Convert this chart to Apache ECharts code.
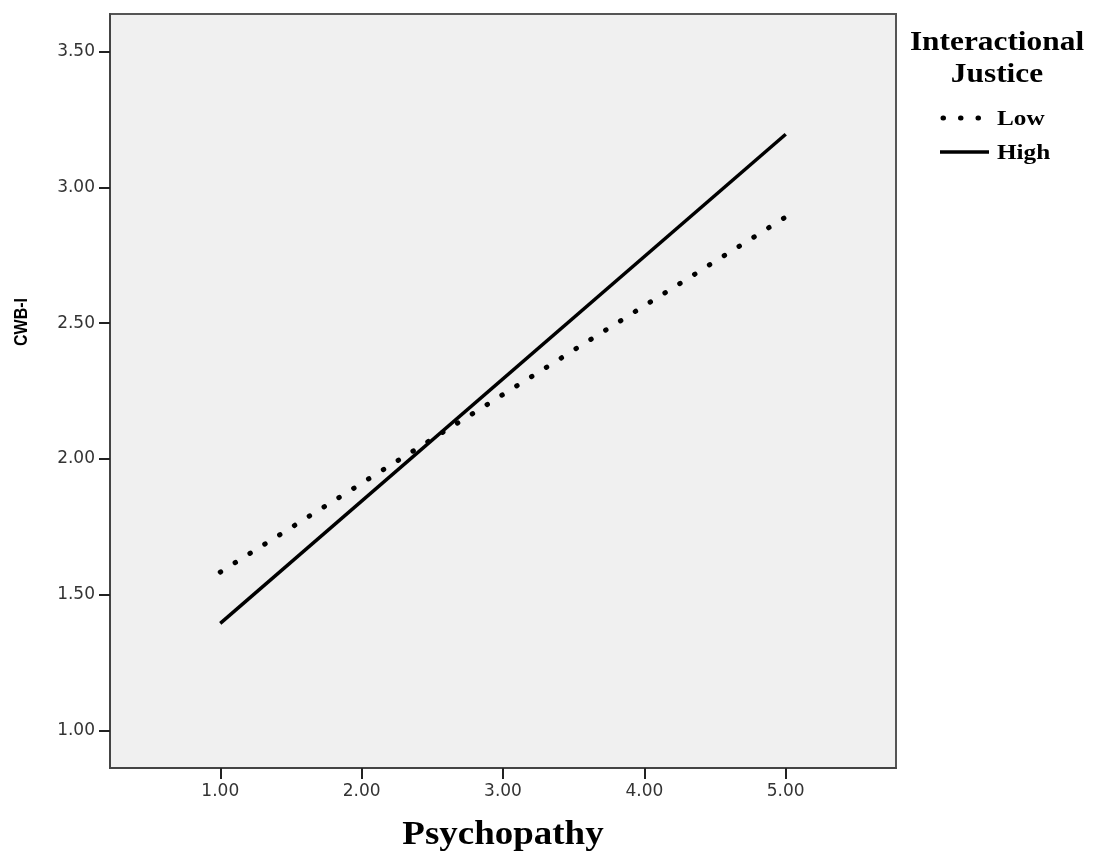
<!DOCTYPE html>
<html>
<head>
<meta charset="utf-8">
<script src="https://cdn.jsdelivr.net/npm/echarts@6/dist/echarts.min.js"></script>
<style>
  html, body { margin: 0; padding: 0; background: #fff; }
  #chart { width: 1094px; height: 852px; }
</style>
</head>
<body>
<div id="chart"></div>
<script>
// data
const psychopathy = [1, 5]
const lowJustice = [1.583, 2.891]
const highJustice = [1.394, 3.196]
const groupNames = ['Low', 'High']
const xTicks = [1, 2, 3, 4, 5]
const yTicks = [1, 1.5, 2, 2.5, 3, 3.5]

const toPairs = (xs, ys) => xs.map((x, i) => [x, ys[i]])

const lowDots = { color: '#000', width: 5, type: [0.5, 17], cap: 'round' }
const highSolid = { color: '#000', width: 3.5, type: 'solid' }

const chart = echarts.init(document.getElementById('chart'))

// the original is a little wider than normal, so titles get a horizontal stretch
const label = (text, x, y, font, align, opts) => Object.assign({
  type: 'text',
  x: x,
  y: y,
  scaleX: 1.12,
  style: {
    text: text,
    textAlign: align,
    textVerticalAlign: 'middle',
    font: font,
    fill: '#000'
  }
}, opts || {})

chart.setOption({
  animation: false,
  backgroundColor: '#fff',
  grid: {
    left: 110,
    top: 14,
    right: 198,
    bottom: 84,
    show: true,
    backgroundColor: '#f0f0f0',
    borderColor: '#555',
    borderWidth: 2
  },
  xAxis: {
    type: 'value',
    min: 0.22,
    max: 5.78,
    axisLine: { show: true, lineStyle: { color: '#444', width: 2 } },
    axisTick: { show: true, length: 11, lineStyle: { color: '#222', width: 2 }, customValues: xTicks },
    axisLabel: {
      customValues: xTicks,
      margin: 15,
      fontFamily: 'DejaVu Sans',
      fontSize: 17,
      color: '#333',
      formatter: v => v.toFixed(2)
    },
    splitLine: { show: false }
  },
  yAxis: {
    type: 'value',
    min: 0.861,
    max: 3.639,
    axisLine: { show: true, lineStyle: { color: '#444', width: 2 } },
    axisTick: { show: true, length: 11, lineStyle: { color: '#222', width: 2 }, customValues: yTicks },
    axisLabel: {
      customValues: yTicks,
      margin: 15,
      fontFamily: 'DejaVu Sans',
      fontSize: 17,
      color: '#333',
      formatter: v => v.toFixed(2)
    },
    splitLine: { show: false }
  },
  graphic: [
    label('Psychopathy', 503, 835, 'bold 33px "Liberation Serif"', 'center'),
    label('CWB-I', 22, 322, 'bold 16px "Liberation Sans"', 'center', { rotation: Math.PI / 2, scaleX: 1, scaleY: 1.12 }),
    label('Interactional', 997, 42.5, 'bold 28px "Liberation Serif"', 'center'),
    label('Justice', 997, 74.5, 'bold 28px "Liberation Serif"', 'center'),
    {
      type: 'line',
      shape: { x1: 943, y1: 118, x2: 978.5, y2: 118 },
      style: { stroke: lowDots.color, lineWidth: lowDots.width, lineDash: lowDots.type, lineCap: 'round' }
    },
    {
      type: 'line',
      shape: { x1: 940, y1: 152, x2: 989, y2: 152 },
      style: { stroke: highSolid.color, lineWidth: highSolid.width }
    },
    label(groupNames[0], 997, 120, 'bold 21px "Liberation Serif"', 'left', { scaleX: 1.2 }),
    label(groupNames[1], 997, 154, 'bold 21px "Liberation Serif"', 'left', { scaleX: 1.2 })
  ],
  series: [
    {
      name: groupNames[0],
      type: 'line',
      data: toPairs(psychopathy, lowJustice),
      symbol: 'none',
      lineStyle: lowDots
    },
    {
      name: groupNames[1],
      type: 'line',
      data: toPairs(psychopathy, highJustice),
      symbol: 'none',
      lineStyle: highSolid
    }
  ]
})
</script>
</body>
</html>
